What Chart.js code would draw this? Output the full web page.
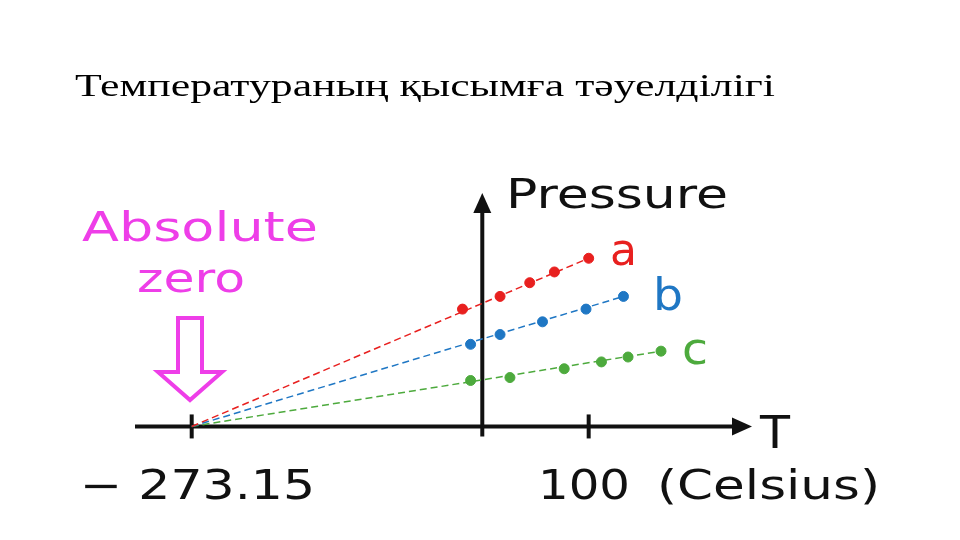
<!DOCTYPE html>
<html>
<head>
<meta charset="utf-8">
<script src="https://cdn.jsdelivr.net/npm/chart.js@4"></script>
<style>
  html, body { margin: 0; padding: 0; background: #fff; }
  #wrap { position: relative; width: 960px; height: 540px; }
</style>
</head>
<body>
<div id="wrap"><canvas id="c" width="960" height="540"></canvas></div>
<script>
const title = 'Температураның қысымға тәуелділігі';
const absZero = -273.15;

const aX = [-18.6, 16.7, 44.6, 67.8, 100];
const aY = [120, 133, 147, 158, 172];
const bX = [-11, 16.7, 56.6, 97.5, 132.7];
const bY = [84, 94, 107, 120, 133];
const cX = [-11, 26, 77, 112, 137, 168];
const cY = [47, 50, 59, 66, 71, 77];

const RED = '#e8201f', BLUE = '#1f77c4', GREEN = '#4daa3d', MAG = '#ee3ee8';

const pts = (xs, ys) => xs.map((x, i) => ({ x, y: ys[i] }));
const dash = (xs, ys) => [{ x: absZero, y: 0 }, { x: xs[xs.length - 1], y: ys[ys.length - 1] }];

// draw text stretched to a given width (left edge at x)
function fitText(ctx, text, x, y, width) {
  const w = ctx.measureText(text).width;
  ctx.save();
  ctx.translate(x, y);
  ctx.scale(width / w, 1);
  ctx.fillText(text, 0, 0);
  ctx.restore();
}

const SANS = '"DejaVu Sans", "Open Sans", sans-serif';

const decor = {
  id: 'decor',
  beforeDatasetsDraw(chart) {
    const { ctx, scales: { x, y } } = chart;
    const x0 = x.getPixelForValue(0), y0 = y.getPixelForValue(0);
    ctx.save();
    ctx.strokeStyle = '#111'; ctx.fillStyle = '#111'; ctx.lineWidth = 4;
    ctx.beginPath(); ctx.moveTo(135, y0); ctx.lineTo(740, y0); ctx.stroke();
    ctx.beginPath(); ctx.moveTo(752, y0); ctx.lineTo(732, y0 - 9); ctx.lineTo(732, y0 + 9); ctx.closePath(); ctx.fill();
    ctx.beginPath(); ctx.moveTo(x0, y0 + 10); ctx.lineTo(x0, 205); ctx.stroke();
    ctx.beginPath(); ctx.moveTo(x0, 193); ctx.lineTo(x0 - 9, 213); ctx.lineTo(x0 + 9, 213); ctx.closePath(); ctx.fill();
    [absZero, 100].forEach(v => {
      const px = x.getPixelForValue(v);
      ctx.beginPath(); ctx.moveTo(px, y0 - 12); ctx.lineTo(px, y0 + 12); ctx.stroke();
    });
    ctx.restore();
  },
  afterDraw(chart) {
    const { ctx } = chart;
    ctx.save();
    ctx.textBaseline = 'alphabetic';
    ctx.fillStyle = '#000';
    ctx.font = '32px "Liberation Serif", "DejaVu Serif", serif';
    fitText(ctx, title, 75, 96, 700);
    ctx.fillStyle = '#111';
    ctx.font = '40px ' + SANS;
    fitText(ctx, 'Pressure', 506, 208, 222);
    ctx.font = '44px ' + SANS;
    fitText(ctx, 'T', 760, 448, 30);
    ctx.font = '40px ' + SANS;
    fitText(ctx, '− 273.15', 80, 499, 235);
    fitText(ctx, '100', 538, 499, 92);
    fitText(ctx, '(Celsius)', 657, 499, 223);
    ctx.font = '44px ' + SANS;
    ctx.fillStyle = RED; fitText(ctx, 'a', 610, 265, 27);
    ctx.fillStyle = BLUE; fitText(ctx, 'b', 653, 310, 30);
    ctx.fillStyle = GREEN; fitText(ctx, 'c', 682, 364, 26);
    ctx.fillStyle = MAG;
    ctx.font = '40px ' + SANS;
    fitText(ctx, 'Absolute', 82, 241, 236);
    fitText(ctx, 'zero', 137, 292, 108);
    ctx.strokeStyle = MAG; ctx.lineWidth = 4;
    ctx.beginPath();
    ctx.moveTo(178, 318); ctx.lineTo(202, 318); ctx.lineTo(202, 372); ctx.lineTo(222, 372);
    ctx.lineTo(190, 400); ctx.lineTo(158, 372); ctx.lineTo(178, 372); ctx.closePath();
    ctx.stroke();
    ctx.restore();
  }
};

const lineDs = (data, color) => ({
  type: 'line', data, borderColor: color, borderWidth: 1.5, borderDash: [7, 4],
  pointRadius: 0, fill: false
});
const dotDs = (data, color) => ({
  type: 'scatter', data, backgroundColor: color, borderColor: color, pointRadius: 5
});

new Chart(document.getElementById('c'), {
  type: 'scatter',
  data: {
    datasets: [
      lineDs(dash(aX, aY), RED), lineDs(dash(bX, bY), BLUE), lineDs(dash(cX, cY), GREEN),
      dotDs(pts(aX, aY), RED), dotDs(pts(bX, bY), BLUE), dotDs(pts(cX, cY), GREEN)
    ]
  },
  options: {
    responsive: false,
    animation: false,
    layout: { padding: 0 },
    plugins: { legend: { display: false }, tooltip: { enabled: false } },
    scales: {
      x: { type: 'linear', min: -447.7, max: 443.4, display: false },
      y: { type: 'linear', min: -110, max: 430, display: false }
    }
  },
  plugins: [decor]
});
</script>
</body>
</html>
